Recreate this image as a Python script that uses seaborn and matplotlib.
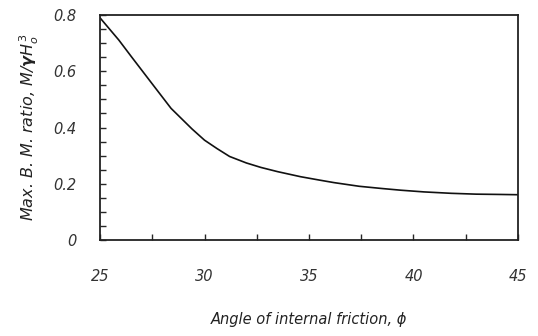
import matplotlib
matplotlib.use("Agg")
import matplotlib.pyplot as plt
import seaborn as sns
import pandas as pd
from matplotlib.ticker import MultipleLocator

phi = [25.0, 25.9, 26.5, 27.5, 28.4, 29.4, 30.0, 30.6, 31.2, 32.0, 32.7, 33.5,
       34.6, 35.5, 36.2, 37.4, 38.5, 39.4, 40.5, 41.8, 43.0, 44.1, 45.0]
ratio = [0.790, 0.711, 0.652, 0.555, 0.468, 0.395, 0.355, 0.325, 0.297, 0.274, 0.258, 0.243,
         0.225, 0.213, 0.204, 0.191, 0.183, 0.177, 0.171, 0.166, 0.163, 0.162, 0.161]

x_ticks = [25, 30, 35, 40, 45]
y_ticks = [0, 0.2, 0.4, 0.6, 0.8]
y_tick_labels = ["0", "0.2", "0.4", "0.6", "0.8"]

sns.set_style("white")
plt.rcParams['font.family'] = ['DejaVu Sans']

df = pd.DataFrame({"phi": phi, "ratio": ratio})

fig = plt.figure(figsize=(5.38, 3.36), dpi=100)
ax = fig.add_axes([100/538, 96/336, 418/538, 225/336])
sns.lineplot(data=df, x="phi", y="ratio", ax=ax, color="#111111", linewidth=1.2)
ax.lines[0].set_solid_joinstyle("round")

ax.set_xlim(25, 45)
ax.set_ylim(0, 0.8)
ax.set_xticks(x_ticks)
ax.set_xticklabels([str(t) for t in x_ticks])
ax.set_yticks(y_ticks)
ax.set_yticklabels(y_tick_labels)
ax.xaxis.set_minor_locator(MultipleLocator(2.5))
ax.yaxis.set_minor_locator(MultipleLocator(0.05))

tc = "#333333"
ax.tick_params(axis="x", which="both", direction="in", length=4, width=1, pad=21,
               labelsize=10.5, labelcolor=tc, bottom=True, top=False)
ax.tick_params(axis="y", which="both", direction="in", length=4, width=1, pad=17,
               labelsize=10.5, labelcolor=tc, left=True, right=False)
for lab in ax.get_xticklabels() + ax.get_yticklabels():
    lab.set_fontstyle("italic")

for s in ax.spines.values():
    s.set_visible(True)
    s.set_color("#222222")
    s.set_linewidth(1.3)

ax.set_xlabel("Angle of internal friction, \u03d5", fontsize=10.5, fontstyle="italic",
              color="#222222", labelpad=20)
ax.set_ylabel(r"Max. B. M. ratio, M/$\boldsymbol{\gamma}$H$_o^{\,3}$", fontsize=11.5,
              fontstyle="italic", color="#222222", labelpad=9)

fig.savefig("out.png", dpi=100, facecolor="white")
